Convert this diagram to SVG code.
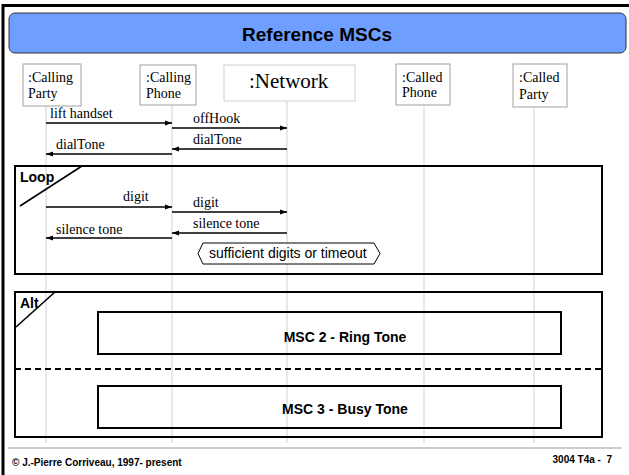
<svg xmlns="http://www.w3.org/2000/svg" width="629" height="475" viewBox="0 0 629 475">
<defs>
<marker id="ah" markerWidth="8" markerHeight="6" refX="7" refY="3" orient="auto" markerUnits="userSpaceOnUse">
<path d="M0,0.5 L7,3 L0,5.5 Z" fill="#000"/>
</marker>
<style>
.box{fill:#fff;stroke:#a0a0a0;stroke-width:1}
.nbox{fill:#fff;stroke:#d0d0d0;stroke-width:1}
.lbl{font-family:"Liberation Serif","Times New Roman",serif;font-size:14px;fill:#000}
.life{stroke:#d9d9d9;stroke-width:1.2}
.msg{stroke:#000;stroke-width:1.6;fill:none;marker-end:url(#ah)}
.frame{fill:none;stroke:#000;stroke-width:2}
.sans{font-family:"Liberation Sans",Arial,sans-serif;fill:#000}
.bold{font-weight:bold}
</style>
</defs>
<rect x="0" y="0" width="629" height="475" fill="#fff"/>
<path d="M3,475 V5.5 H629" fill="none" stroke="#000" stroke-width="3"/>
<g id="title">
<rect x="9" y="13" width="617" height="40" rx="6" fill="#6E9EFF" stroke="#333" stroke-width="1"/>
<text x="317" y="41" text-anchor="middle" class="sans bold" font-size="19">Reference MSCs</text>
</g>
<g id="lifelines">
<line class="life" x1="46" y1="106" x2="46" y2="443"/>
<line class="life" x1="172" y1="105" x2="172" y2="443"/>
<line class="life" x1="287" y1="101" x2="287" y2="443"/>
<line class="life" x1="424" y1="105" x2="424" y2="443"/>
<line class="life" x1="534" y1="107" x2="534" y2="443"/>
</g>
<g id="callingParty">
<rect class="box" x="23" y="64" width="58" height="42"/>
<text class="lbl" x="28" y="82">:Calling</text>
<text class="lbl" x="28" y="98">Party</text>
</g>
<g id="callingPhone">
<rect class="box" x="140" y="65" width="56" height="40"/>
<text class="lbl" x="146" y="82">:Calling</text>
<text class="lbl" x="146" y="98">Phone</text>
</g>
<g id="network">
<rect class="nbox" x="224" y="65" width="131" height="36"/>
<text x="249" y="88" font-family="'Liberation Serif','Times New Roman',serif" font-size="21">:Network</text>
</g>
<g id="calledPhone">
<rect class="box" x="396" y="64" width="54" height="41"/>
<text class="lbl" x="402" y="82">:Called</text>
<text class="lbl" x="402" y="97">Phone</text>
</g>
<g id="calledParty">
<rect class="box" x="513" y="64" width="54" height="43"/>
<text class="lbl" x="519" y="82">:Called</text>
<text class="lbl" x="519" y="99">Party</text>
</g>
<g id="connectors">
<line class="msg" x1="46" y1="123" x2="172" y2="123"/>
<line class="msg" x1="172" y1="128" x2="287" y2="128"/>
<line class="msg" x1="287" y1="149" x2="172" y2="149"/>
<line class="msg" x1="172" y1="154" x2="46" y2="154"/>
<line class="msg" x1="46" y1="207" x2="172" y2="207"/>
<line class="msg" x1="172" y1="212" x2="287" y2="212"/>
<line class="msg" x1="287" y1="233" x2="172" y2="233"/>
<line class="msg" x1="172" y1="238" x2="46" y2="238"/>
</g>
<g id="messageLabels">
<text class="lbl" x="50" y="118">lift handset</text>
<text class="lbl" x="193" y="123">offHook</text>
<text class="lbl" x="193" y="144">dialTone</text>
<text class="lbl" x="56" y="149">dialTone</text>
<text class="lbl" x="123" y="201">digit</text>
<text class="lbl" x="193" y="207">digit</text>
<text class="lbl" x="193" y="228">silence tone</text>
<text class="lbl" x="56" y="234">silence tone</text>
</g>
<g id="loop">
<rect class="frame" x="15" y="166" width="587" height="108"/>
<text x="20" y="182" class="sans bold" font-size="14">Loop</text>
<line x1="20" y1="206" x2="82" y2="166" stroke="#000" stroke-width="1.6"/>
</g>
<g id="condition">
<path d="M203,243 H374 L380,253.5 L374,264 H203 L198,253.5 Z" fill="#fff" stroke="#000" stroke-width="1"/>
<text x="209" y="258" class="sans" font-size="14">sufficient digits or timeout</text>
</g>
<g id="alt">
<rect class="frame" x="15" y="292" width="587" height="145"/>
<text x="20" y="308" class="sans bold" font-size="14">Alt</text>
<line x1="16" y1="327" x2="55" y2="292" stroke="#000" stroke-width="1.6"/>
<line x1="15" y1="369" x2="602" y2="369" stroke="#000" stroke-width="2" stroke-dasharray="6,4"/>
</g>
<g id="msc2">
<rect class="frame" x="98" y="312" width="463" height="42"/>
<text x="345" y="342" text-anchor="middle" class="sans bold" font-size="14">MSC 2 - Ring Tone</text>
</g>
<g id="msc3">
<rect class="frame" x="98" y="386" width="463" height="42"/>
<text x="345" y="414" text-anchor="middle" class="sans bold" font-size="14">MSC 3 - Busy Tone</text>
</g>
<g id="footer">
<line x1="8" y1="448" x2="622" y2="448" stroke="#999" stroke-width="1"/>
<text x="12" y="466" class="sans bold" font-size="10">© J.-Pierre Corriveau, 1997- present</text>
<text x="612" y="463" text-anchor="end" class="sans bold" font-size="10" xml:space="preserve">3004 T4a -  7</text>
</g>
</svg>
